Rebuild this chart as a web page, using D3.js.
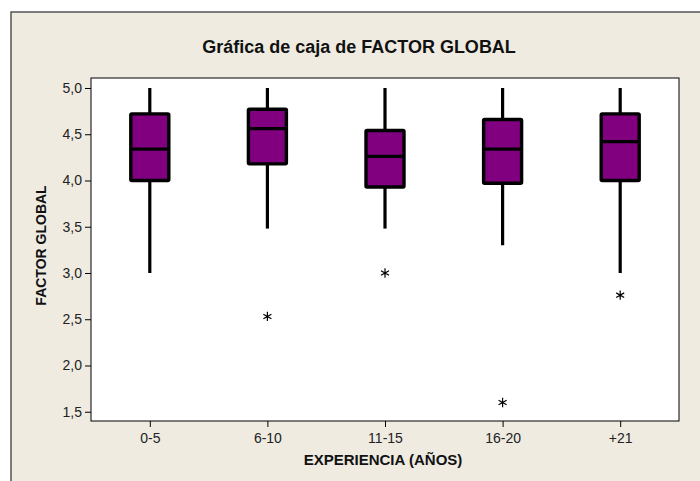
<!DOCTYPE html>
<html>
<head>
<meta charset="utf-8">
<script src="https://cdn.jsdelivr.net/npm/d3@7"></script>
<style>
  body { margin: 0; background: #ffffff; }
  svg { display: block; }
</style>
</head>
<body>
<div id="chart"></div>
<script>
// values
var categories  = ["0-5", "6-10", "11-15", "16-20", "+21"];
var whiskerLow  = [3.0, 3.48, 3.48, 3.30, 3.0];
var q1          = [4.0, 4.18, 3.93, 3.97, 4.0];
var medians     = [4.34, 4.56, 4.26, 4.34, 4.42];
var q3          = [4.72, 4.77, 4.54, 4.66, 4.72];
var whiskerHigh = [5.0, 5.0, 5.0, 5.0, 5.0];
var outliers    = [[], [2.53], [3.0], [1.6], [2.76]];
var yTicks      = [1.5, 2.0, 2.5, 3.0, 3.5, 4.0, 4.5, 5.0];

var W = 700, H = 481;
var margin = {top: 78, right: 21, bottom: 60, left: 91};
var w = W - margin.left - margin.right;
var h = H - margin.top - margin.bottom;
var font = "'Liberation Sans', Arial, sans-serif";

var svg = d3.select("#chart").append("svg")
    .attr("width", W)
    .attr("height", H);

// outer beige panel
svg.append("rect")
   .attr("x", 11).attr("y", 12)
   .attr("width", W).attr("height", H)
   .attr("fill", "#efebe1")
   .attr("stroke", "#555")
   .attr("stroke-width", 1.5);

var g = svg.append("g")
    .attr("transform", "translate(" + margin.left + "," + margin.top + ")");

var xScale = d3.scalePoint()
    .domain(categories)
    .range([0, w])
    .padding(0.5);

var yScale = d3.scaleLinear()
    .domain([1.4, 5.108])
    .range([h, 0]);

// plot area
g.append("rect")
 .attr("width", w).attr("height", h)
 .attr("fill", "#ffffff")
 .attr("stroke", "#000")
 .attr("stroke-width", 1);

var commaFmt = function(d){ return d3.format(".1f")(d).replace(".", ","); };

var yAxis = g.append("g")
    .call(d3.axisLeft(yScale).tickValues(yTicks).tickSize(6).tickPadding(3).tickFormat(commaFmt));
var xAxis = g.append("g")
    .attr("transform", "translate(0," + h + ")")
    .call(d3.axisBottom(xScale).tickSize(6).tickPadding(6));

[yAxis, xAxis].forEach(function(a){
  a.select(".domain").remove();
  a.selectAll("line").attr("stroke", "#000");
  a.selectAll("text")
   .attr("font-family", font)
   .attr("font-size", "14px")
   .attr("fill", "#222");
});

var boxW = 38;
var idx = d3.range(categories.length);

// whiskers
g.selectAll(".whisker")
 .data(idx).enter().append("line")
 .attr("class", "whisker")
 .attr("x1", function(i){ return xScale(categories[i]); })
 .attr("x2", function(i){ return xScale(categories[i]); })
 .attr("y1", function(i){ return yScale(whiskerLow[i]); })
 .attr("y2", function(i){ return yScale(whiskerHigh[i]); })
 .attr("stroke", "#000")
 .attr("stroke-width", 3.2);

// boxes
g.selectAll(".box")
 .data(idx).enter().append("rect")
 .attr("class", "box")
 .attr("x", function(i){ return xScale(categories[i]) - boxW/2; })
 .attr("y", function(i){ return yScale(q3[i]); })
 .attr("width", boxW)
 .attr("height", function(i){ return yScale(q1[i]) - yScale(q3[i]); })
 .attr("fill", "#800080")
 .attr("stroke", "#000")
 .attr("stroke-width", 3.4)
 .attr("rx", 1);

// medians
g.selectAll(".median")
 .data(idx).enter().append("line")
 .attr("class", "median")
 .attr("x1", function(i){ return xScale(categories[i]) - boxW/2; })
 .attr("x2", function(i){ return xScale(categories[i]) + boxW/2; })
 .attr("y1", function(i){ return yScale(medians[i]); })
 .attr("y2", function(i){ return yScale(medians[i]); })
 .attr("stroke", "#000")
 .attr("stroke-width", 3.2);

// outliers as asterisks
var outPts = [];
outliers.forEach(function(arr, i){
  arr.forEach(function(v){ outPts.push({cat: categories[i], v: v}); });
});
g.selectAll(".outlier")
 .data(outPts).enter().append("path")
 .attr("class", "outlier")
 .attr("d", d3.symbol().type(d3.symbolAsterisk).size(60))
 .attr("transform", function(d){ return "translate(" + xScale(d.cat) + "," + yScale(d.v) + ")"; })
 .attr("fill", "none")
 .attr("stroke", "#000")
 .attr("stroke-width", 1.2);

// title
svg.append("text")
   .attr("x", 359).attr("y", 53)
   .attr("text-anchor", "middle")
   .attr("font-family", font)
   .attr("font-weight", "bold")
   .attr("font-size", "18px")
   .attr("fill", "#111")
   .text("Gráfica de caja de FACTOR GLOBAL");

// y axis label
svg.append("text")
   .attr("transform", "translate(46," + (margin.top + h/2 - 4) + ") rotate(-90)")
   .attr("text-anchor", "middle")
   .attr("font-family", font)
   .attr("font-weight", "bold")
   .attr("font-size", "14px")
   .attr("fill", "#111")
   .text("FACTOR GLOBAL");

// x axis label
svg.append("text")
   .attr("x", 383).attr("y", 465)
   .attr("text-anchor", "middle")
   .attr("font-family", font)
   .attr("font-weight", "bold")
   .attr("font-size", "15px")
   .attr("fill", "#111")
   .text("EXPERIENCIA (AÑOS)");
</script>
</body>
</html>
